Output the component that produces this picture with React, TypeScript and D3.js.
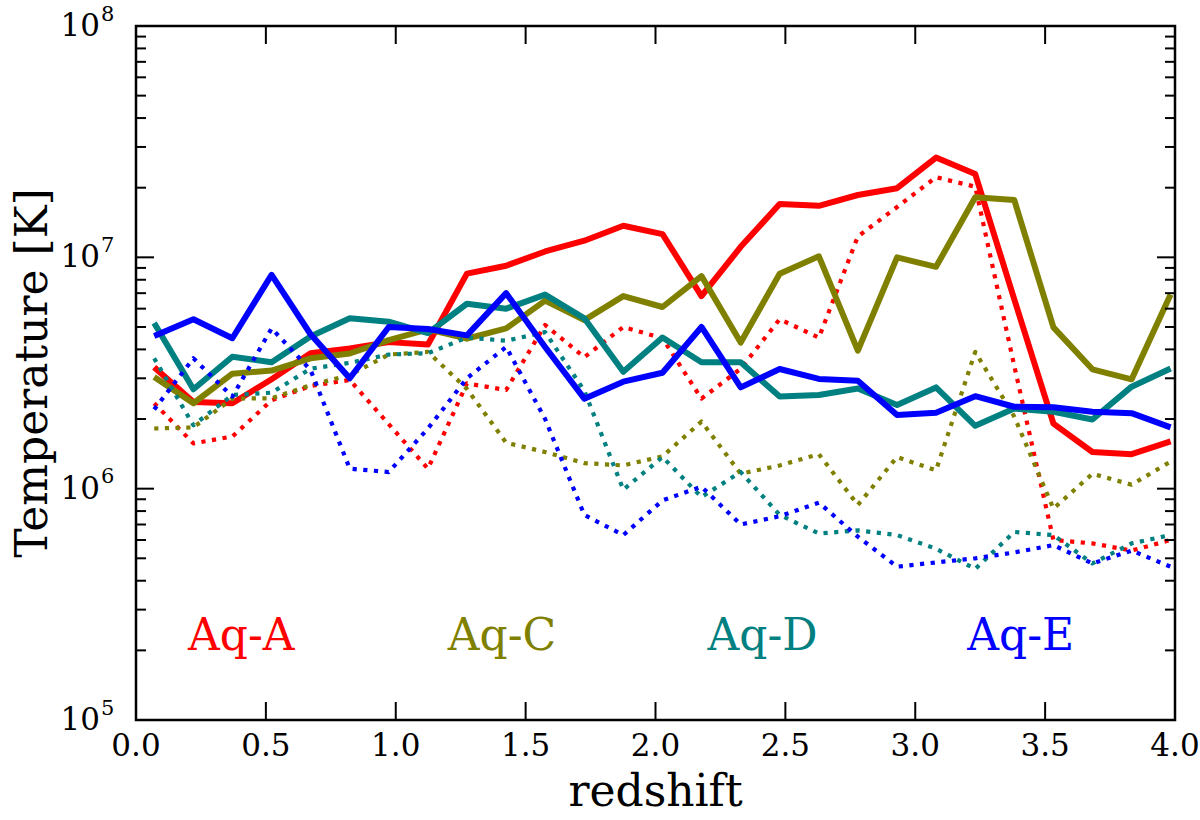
import React from 'react';
import * as d3 from 'd3';

// redshift of each snapshot
const redshift = [
  0.07, 0.221, 0.371, 0.522, 0.672, 0.823, 0.973, 1.124, 1.274, 1.425, 1.575, 1.726, 1.876, 2.027,
  2.177, 2.328, 2.478, 2.629, 2.779, 2.93, 3.08, 3.231, 3.381, 3.532, 3.682, 3.833, 3.983,
];

// solid lines
const aqA = [
  3.35e6, 2.37e6, 2.34e6, 2.97e6, 3.85e6, 4.04e6, 4.3e6, 4.2e6, 8.5e6, 9.2e6, 1.06e7, 1.18e7, 1.37e7, 1.26e7,
  6.8e6, 1.11e7, 1.7e7, 1.67e7, 1.86e7, 1.99e7, 2.7e7, 2.29e7, 6.6e6, 1.91e6, 1.44e6, 1.41e6, 1.6e6,
];
const aqC = [
  3.04e6, 2.34e6, 3.14e6, 3.24e6, 3.66e6, 3.84e6, 4.39e6, 4.88e6, 4.45e6, 4.93e6, 6.5e6, 5.35e6, 6.8e6, 6.1e6,
  8.3e6, 4.28e6, 8.5e6, 1.01e7, 3.95e6, 1.0e7, 9.1e6, 1.82e7, 1.77e7, 4.98e6, 3.28e6, 2.97e6, 6.9e6,
];
const aqD = [
  5.2e6, 2.69e6, 3.72e6, 3.52e6, 4.55e6, 5.45e6, 5.27e6, 4.7e6, 6.3e6, 6.0e6, 6.9e6, 5.45e6, 3.2e6, 4.5e6,
  3.52e6, 3.52e6, 2.5e6, 2.54e6, 2.71e6, 2.3e6, 2.74e6, 1.87e6, 2.22e6, 2.15e6, 1.99e6, 2.76e6, 3.31e6,
];
const aqE = [
  4.57e6, 5.4e6, 4.47e6, 8.4e6, 4.65e6, 3.0e6, 5.0e6, 4.9e6, 4.6e6, 7.0e6, 4.1e6, 2.45e6, 2.9e6, 3.17e6,
  5.0e6, 2.74e6, 3.29e6, 2.98e6, 2.93e6, 2.08e6, 2.13e6, 2.51e6, 2.26e6, 2.25e6, 2.15e6, 2.12e6, 1.84e6,
];

// dotted lines
const aqAdot = [
  2.34e6, 1.57e6, 1.68e6, 2.41e6, 2.78e6, 2.95e6, 1.9e6, 1.22e6, 2.85e6, 2.67e6, 5.1e6, 3.7e6, 5.0e6, 4.47e6,
  2.45e6, 3.3e6, 5.4e6, 4.5e6, 1.23e7, 1.65e7, 2.22e7, 2.02e7, 3.4e6, 6.0e5, 5.8e5, 5.4e5, 6.0e5,
];
const aqCdot = [
  1.82e6, 1.84e6, 2.45e6, 2.46e6, 2.8e6, 3.1e6, 3.8e6, 3.9e6, 2.7e6, 1.58e6, 1.44e6, 1.29e6, 1.26e6, 1.38e6,
  1.95e6, 1.16e6, 1.26e6, 1.41e6, 8.5e5, 1.37e6, 1.2e6, 3.9e6, 2.05e6, 8.2e5, 1.16e6, 1.04e6, 1.31e6,
];
const aqDdot = [
  3.66e6, 1.88e6, 2.54e6, 2.6e6, 3.3e6, 3.5e6, 3.8e6, 3.85e6, 4.5e6, 4.36e6, 4.75e6, 2.65e6, 9.9e5, 1.37e6,
  9.2e5, 1.18e6, 7.7e5, 6.4e5, 6.6e5, 6.3e5, 5.5e5, 4.5e5, 6.5e5, 6.3e5, 4.75e5, 5.8e5, 6.3e5,
];
const aqEdot = [
  2.2e6, 3.66e6, 2.5e6, 4.93e6, 3.26e6, 1.22e6, 1.18e6, 1.82e6, 3.0e6, 4.1e6, 2.0e6, 7.7e5, 6.3e5, 8.9e5,
  1.02e6, 7.0e5, 7.6e5, 8.7e5, 6.2e5, 4.6e5, 4.8e5, 5.0e5, 5.3e5, 5.7e5, 4.75e5, 5.4e5, 4.6e5,
];

const haloNames = ['Aq-A', 'Aq-C', 'Aq-D', 'Aq-E'];
const haloColors = ['#ff0000', '#808000', '#008080', '#0000ff'];
const solidSeries = [aqA, aqC, aqD, aqE];
const dottedSeries = [aqAdot, aqCdot, aqDdot, aqEdot];
const labelX = [0.2, 1.2, 2.2, 3.2];
const labelY = 2e5;

const xTicks = [0, 0.5, 1, 1.5, 2, 2.5, 3, 3.5, 4];
const yDecades = [5, 6, 7, 8];

const W = 1200;
const H = 820;
const FONT = 'DejaVu Serif, serif';

export default function App() {
  const left = 136;
  const right = 1175;
  const top = 26;
  const bottom = 720;

  const x = d3.scaleLinear().domain([0, 4]).range([left, right]);
  const y = d3.scaleLog().domain([1e5, 1e8]).range([bottom, top]);

  const line = d3
    .line<number>()
    .x((_, i) => x(redshift[i]))
    .y(d => y(d));

  // minor ticks 2..9 x 10^k
  const minor: number[] = [];
  [5, 6, 7].forEach(k => {
    for (let m = 2; m <= 9; m++) minor.push(m * Math.pow(10, k));
  });

  const tickStroke = { stroke: '#000', strokeWidth: 2 };

  return (
    <svg
      width={W}
      height={H}
      style={{ position: 'absolute', left: 0, top: 0, background: '#fff' }}
    >
      <defs>
        <clipPath id="plot">
          <rect x={left} y={top} width={right - left} height={bottom - top} />
        </clipPath>
      </defs>

      {/* data */}
      <g clipPath="url(#plot)" fill="none">
        {solidSeries.map((s, k) => (
          <g key={k}>
            <path
              d={line(s) || ''}
              stroke={haloColors[k]}
              strokeWidth={6}
              strokeLinejoin="round"
            />
            <path
              d={line(dottedSeries[k]) || ''}
              stroke={haloColors[k]}
              strokeWidth={4.2}
              strokeDasharray="4.2,6.5"
              strokeLinejoin="round"
            />
          </g>
        ))}
      </g>

      {/* x ticks, bottom and top */}
      {xTicks.map(t => (
        <g key={'x' + t}>
          <line x1={x(t)} x2={x(t)} y1={bottom} y2={bottom - 18} {...tickStroke} />
          <line x1={x(t)} x2={x(t)} y1={top} y2={top + 18} {...tickStroke} />
          <text
            x={x(t)}
            y={756}
            textAnchor="middle"
            fontFamily={FONT}
            fontSize={31}
            fill="#000"
          >
            {t.toFixed(1)}
          </text>
        </g>
      ))}

      {/* y ticks, left and right */}
      {yDecades.map(k => {
        const v = Math.pow(10, k);
        return (
          <g key={'y' + k}>
            <line x1={left} x2={left + 18} y1={y(v)} y2={y(v)} {...tickStroke} />
            <line x1={right} x2={right - 18} y1={y(v)} y2={y(v)} {...tickStroke} />
            <text
              x={100}
              y={y(v) + 10}
              textAnchor="end"
              fontFamily={FONT}
              fontSize={31}
              fill="#000"
            >
              10
            </text>
            <text x={101} y={y(v) - 5.5} fontFamily={FONT} fontSize={21} fill="#000">
              {k}
            </text>
          </g>
        );
      })}
      {minor.map(v => (
        <g key={'m' + v}>
          <line x1={left} x2={left + 10} y1={y(v)} y2={y(v)} {...tickStroke} />
          <line x1={right} x2={right - 10} y1={y(v)} y2={y(v)} {...tickStroke} />
        </g>
      ))}

      {/* frame */}
      <rect
        x={left}
        y={top}
        width={right - left}
        height={bottom - top}
        fill="none"
        stroke="#000"
        strokeWidth={2.5}
      />

      {/* halo labels */}
      {haloNames.map((n, k) => (
        <text
          key={n}
          x={x(labelX[k])}
          y={y(labelY)}
          fontFamily={FONT}
          fontSize={44}
          fill={haloColors[k]}
        >
          {n}
        </text>
      ))}

      {/* axis labels */}
      <text
        x={(left + right) / 2}
        y={806}
        textAnchor="middle"
        fontFamily={FONT}
        fontSize={44}
        fill="#000"
      >
        redshift
      </text>
      <text
        transform={`translate(47, ${(top + bottom) / 2}) rotate(-90)`}
        textAnchor="middle"
        fontFamily={FONT}
        fontSize={44}
        fill="#000"
      >
        Temperature [K]
      </text>
    </svg>
  );
}
